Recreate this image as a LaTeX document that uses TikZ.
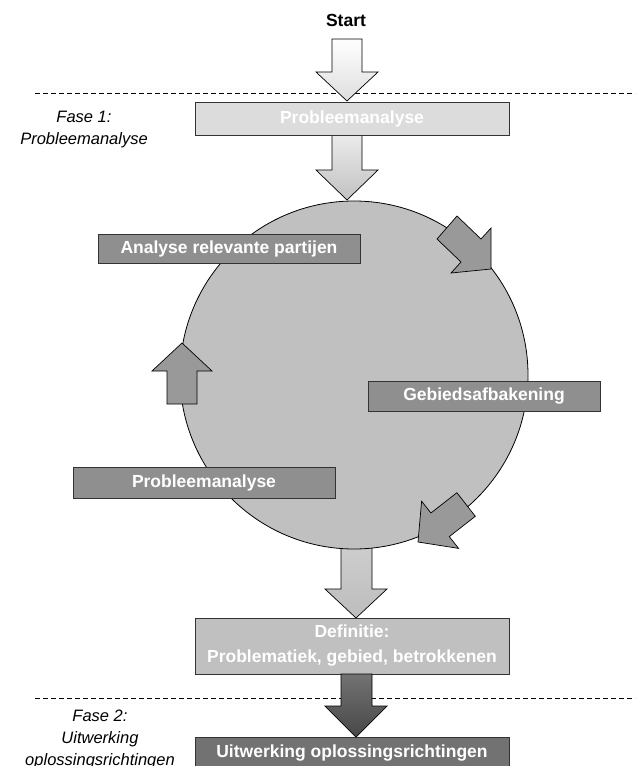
\documentclass[tikz,border=0pt]{standalone}
\usepackage{fontspec}
\setmainfont{Liberation Sans}
\definecolor{circlefill}{HTML}{C0C0C0}
\definecolor{midbox}{HTML}{8F8F8F}
\definecolor{smallarrow}{HTML}{999999}
\definecolor{lightbox}{HTML}{DCDCDC}
\definecolor{darkbox}{HTML}{727272}
\definecolor{edge}{HTML}{333333}
\begin{document}
\begin{tikzpicture}[x=1pt,y=-1pt,
  every node/.style={inner sep=0pt, outer sep=0pt},
  box/.style={draw=edge, line width=0.8pt, text=white,
    font=\fontsize{17.5}{25}\selectfont\bfseries, align=center},
  phase/.style={font=\fontsize{16.5}{22}\selectfont\itshape, align=center},
  outline/.style={draw=black, line width=0.7pt, line join=miter},
  turn/.style={outline, fill=smallarrow},
  separator/.style={line width=0.7pt, dash pattern=on 5pt off 3pt}
]
\useasboundingbox (0,0) rectangle (635,766);

% title
\node[font=\fontsize{17.5}{20}\selectfont\bfseries] (start) at (346,20) {Start};

% phase separators
\coordinate (sepA) at (35,93);
\coordinate (sepAend) at (635,93);
\coordinate (sepB) at (35,698);
\coordinate (sepBend) at (635,698);
\draw[separator] (sepA) -- (sepAend);
\draw[separator] (sepB) -- (sepBend);

% phase labels
\node[phase] (fase1) at (84,130) {Fase 1:\\Probleemanalyse};
\node[phase] (fase2) at (100,739) {Fase 2:\\Uitwerking\\oplossingsrichtingen};

% arrow from Start into the first box
\shade[top color=white, bottom color=black!13, outline]
  (332,39) -- (362,39) -- (362,72) -- (378,72) -- (347,101) -- (316,72) -- (332,72) -- cycle;

% arrow below the circle (partly hidden by it)
\shade[top color=black!18, bottom color=black!26, outline]
  (341,530) -- (372,530) -- (372,589) -- (387,589) -- (356,618) -- (325,589) -- (341,589) -- cycle;

% the cycle
\node[circle, draw=black, line width=0.8pt, fill=circlefill, minimum size=348pt] (cycle) at (354,375) {};

% arrow from the first box down to the circle
\shade[top color=black!8, bottom color=black!24, outline]
  (332,135) -- (362,135) -- (362,170) -- (378,170) -- (347,200) -- (316,170) -- (332,170) -- cycle;

% turning arrows around the circle
\draw[turn] (457,216) -- (481,239) -- (491,228) -- (491,269) -- (451,273) -- (461,262) -- (437,239) -- cycle;
\draw[turn] (475.3,516.3) -- (449.3,536.6) -- (458.6,548.4) -- (418,542) -- (421.6,501.2) -- (430.9,513.0) -- (456.9,492.7) -- cycle;
\draw[turn] (182,343) -- (212,371) -- (197,371) -- (197,404) -- (167,404) -- (167,371) -- (152,371) -- cycle;

% boxes
\node[box, fill=lightbox, minimum width=314pt, minimum height=33pt] (p0) at (352,118.5) {Probleemanalyse};
\node[box, fill=midbox, minimum width=262pt, minimum height=29pt] (partijen) at (229,249) {Analyse relevante partijen};
\node[box, fill=midbox, minimum width=232pt, minimum height=30pt] (gebied) at (484,396) {Gebiedsafbakening};
\node[box, fill=midbox, minimum width=262pt, minimum height=31pt] (p1) at (204,483) {Probleemanalyse};
\node[box, fill=circlefill, minimum width=314pt, minimum height=56pt] (def) at (352,646) {Definitie:\\Problematiek, gebied, betrokkenen};

% arrow into the final phase
\shade[top color=black!55, bottom color=black!72, outline]
  (341,674) -- (372,674) -- (372,706) -- (387,706) -- (356,737) -- (325,706) -- (341,706) -- cycle;

\node[box, fill=darkbox, minimum width=314pt, minimum height=33pt] (uit) at (352,753.5) {Uitwerking oplossingsrichtingen};
\end{tikzpicture}
\end{document}
